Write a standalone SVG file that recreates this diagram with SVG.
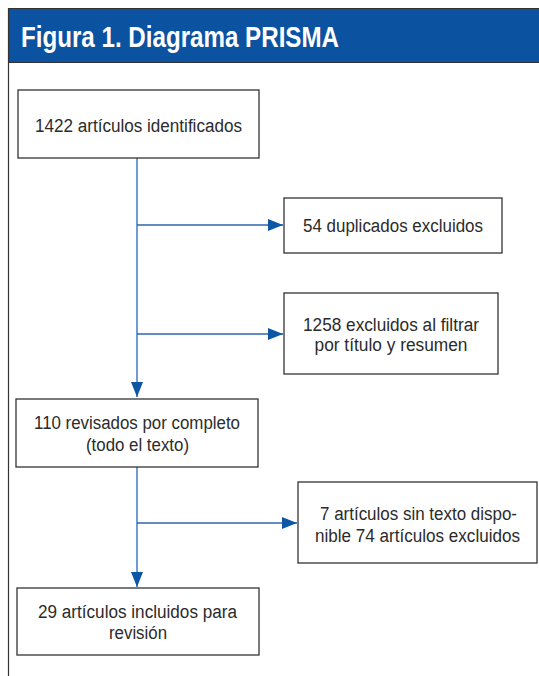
<svg xmlns="http://www.w3.org/2000/svg" width="539" height="676" viewBox="0 0 539 676">
<style>
.box{fill:#fff;stroke:#333;stroke-width:1.3}
.t{font-family:"Liberation Sans",Arial,sans-serif;font-size:18px;fill:#2b2b2b;text-anchor:middle}
.title{font-family:"Liberation Sans",Arial,sans-serif;font-size:29px;font-weight:bold;fill:#fff}
.v{stroke:#6e9dd3;stroke-width:2;fill:none}
.h{stroke:#2c64ad;stroke-width:1.4;fill:none}
</style>
<defs>
<marker id="ah" viewBox="0 0 15 12" refX="15" refY="6" markerWidth="15" markerHeight="12" markerUnits="userSpaceOnUse" orient="auto">
<path d="M0,0 L15,6 L0,12 z" fill="#0d55a5"/>
</marker>
</defs>
<rect x="0" y="0" width="539" height="676" fill="#fff"/>
<g id="frame">
<rect x="9" y="9" width="530" height="53" fill="#0b52a0"/>
<line x1="8" y1="8.5" x2="539" y2="8.5" stroke="#333" stroke-width="1.2"/>
<line x1="8.5" y1="8" x2="8.5" y2="676" stroke="#333" stroke-width="1.2"/>
<line x1="8" y1="62.5" x2="539" y2="62.5" stroke="#333" stroke-width="1.2"/>
<text class="title" x="21" y="47" textLength="318" lengthAdjust="spacingAndGlyphs">Figura 1. Diagrama PRISMA</text>
</g>
<g id="connectors">
<line class="v" x1="137" y1="158" x2="137" y2="397" marker-end="url(#ah)"/>
<line class="h" x1="137" y1="225" x2="283" y2="225" marker-end="url(#ah)"/>
<line class="h" x1="137" y1="334" x2="283" y2="334" marker-end="url(#ah)"/>
<line class="v" x1="137" y1="467" x2="137" y2="587" marker-end="url(#ah)"/>
<line class="h" x1="137" y1="523" x2="297" y2="523" marker-end="url(#ah)"/>
</g>
<g id="n1">
<rect class="box" x="18" y="90" width="241" height="68"/>
<text class="t" x="138.5" y="132" textLength="207" lengthAdjust="spacingAndGlyphs">1422 artículos identificados</text>
</g>
<g id="n2">
<rect class="box" x="284" y="198" width="218" height="55"/>
<text class="t" x="393" y="232" textLength="180" lengthAdjust="spacingAndGlyphs">54 duplicados excluidos</text>
</g>
<g id="n3">
<rect class="box" x="284" y="293" width="214" height="81"/>
<text class="t" x="391" y="330.5" textLength="176" lengthAdjust="spacingAndGlyphs">1258 excluidos al filtrar</text>
<text class="t" x="391" y="351" textLength="153" lengthAdjust="spacingAndGlyphs">por título y resumen</text>
</g>
<g id="n4">
<rect class="box" x="16" y="399" width="242" height="68"/>
<text class="t" x="137" y="429" textLength="206" lengthAdjust="spacingAndGlyphs">110 revisados por completo</text>
<text class="t" x="137.5" y="451" textLength="103" lengthAdjust="spacingAndGlyphs">(todo el texto)</text>
</g>
<g id="n5">
<rect class="box" x="17" y="588" width="242" height="67"/>
<text class="t" x="137.5" y="618" textLength="199" lengthAdjust="spacingAndGlyphs">29 artículos incluidos para</text>
<text class="t" x="138" y="639" textLength="58" lengthAdjust="spacingAndGlyphs">revisión</text>
</g>
<g id="n6">
<rect class="box" x="298" y="482" width="239" height="81"/>
<text class="t" x="418.5" y="520" textLength="197" lengthAdjust="spacingAndGlyphs">7 artículos sin texto dispo-</text>
<text class="t" x="417.5" y="541.5" textLength="205" lengthAdjust="spacingAndGlyphs">nible 74 artículos excluidos</text>
</g>
</svg>
